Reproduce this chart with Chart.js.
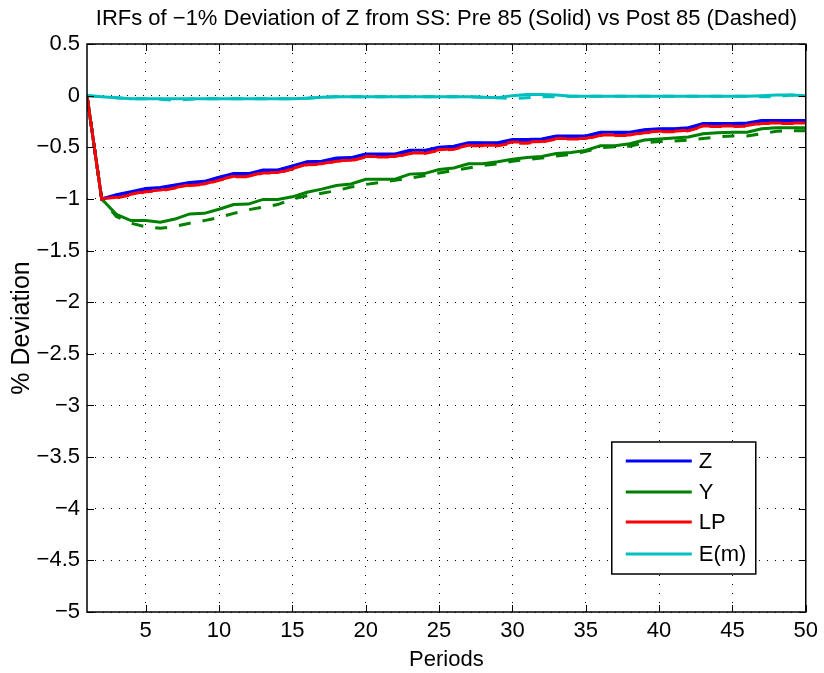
<!DOCTYPE html>
<html>
<head>
<meta charset="utf-8">
<script src="https://cdn.jsdelivr.net/npm/chart.js@4"></script>
<style>
  body { margin: 0; background: #fff; }
  canvas { display: block; }
</style>
</head>
<body>
<canvas id="irfChart" width="824" height="673"></canvas>
<script>
const periods = Array.from({ length: 50 }, (_, i) => i + 1);
const xTicks = [5, 10, 15, 20, 25, 30, 35, 40, 45, 50];

// Pre 85 (solid)
const zPre = [0, -1.00, -0.96, -0.93, -0.90, -0.89, -0.865, -0.84, -0.83, -0.79,
  -0.755, -0.755, -0.72, -0.72, -0.68, -0.64, -0.635, -0.605, -0.60, -0.565,
  -0.565, -0.565, -0.53, -0.53, -0.50, -0.49, -0.455, -0.455, -0.455, -0.425,
  -0.425, -0.42, -0.39, -0.39, -0.39, -0.355, -0.355, -0.355, -0.33, -0.32,
  -0.32, -0.31, -0.27, -0.27, -0.27, -0.265, -0.24, -0.24, -0.24, -0.24];
const yPre = [0, -1.00, -1.15, -1.21, -1.21, -1.225, -1.195, -1.145, -1.14, -1.10,
  -1.055, -1.05, -1.005, -1.005, -0.98, -0.935, -0.905, -0.87, -0.855, -0.81,
  -0.81, -0.81, -0.76, -0.755, -0.715, -0.70, -0.66, -0.66, -0.64, -0.615,
  -0.60, -0.59, -0.56, -0.55, -0.53, -0.485, -0.485, -0.465, -0.43, -0.42,
  -0.41, -0.40, -0.37, -0.36, -0.355, -0.355, -0.32, -0.31, -0.31, -0.31];
const lpPre = [0, -1.00, -0.985, -0.955, -0.925, -0.915, -0.89, -0.865, -0.855, -0.815,
  -0.78, -0.78, -0.745, -0.745, -0.705, -0.665, -0.66, -0.63, -0.625, -0.59,
  -0.59, -0.59, -0.555, -0.555, -0.525, -0.515, -0.48, -0.48, -0.48, -0.45,
  -0.45, -0.445, -0.415, -0.415, -0.415, -0.38, -0.38, -0.38, -0.355, -0.345,
  -0.345, -0.335, -0.295, -0.295, -0.295, -0.29, -0.265, -0.265, -0.265, -0.265];
const emPre = [0, -0.01, -0.02, -0.03, -0.03, -0.03, -0.03, -0.03, -0.03, -0.03,
  -0.03, -0.03, -0.03, -0.03, -0.03, -0.025, -0.015, -0.01, -0.01, -0.01,
  -0.01, -0.01, -0.01, -0.01, -0.01, -0.01, -0.01, -0.015, -0.02, 0.0,
  0.01, 0.01, 0.005, -0.005, -0.005, -0.005, -0.005, -0.005, -0.005, -0.005,
  -0.005, -0.005, -0.005, -0.005, -0.005, -0.005, 0.0, 0.005, 0.005, 0.0];

// Post 85 (dashed)
const zPost = [0, -1.00, -0.965, -0.935, -0.905, -0.895, -0.87, -0.845, -0.835, -0.795,
  -0.76, -0.76, -0.725, -0.725, -0.685, -0.645, -0.64, -0.61, -0.605, -0.57,
  -0.57, -0.57, -0.535, -0.535, -0.505, -0.495, -0.46, -0.46, -0.46, -0.43,
  -0.43, -0.425, -0.395, -0.395, -0.395, -0.36, -0.36, -0.36, -0.335, -0.325,
  -0.325, -0.315, -0.275, -0.275, -0.275, -0.27, -0.245, -0.245, -0.245, -0.245];
const yPost = [0, -1.00, -1.17, -1.235, -1.27, -1.285, -1.265, -1.235, -1.21, -1.18,
  -1.14, -1.105, -1.08, -1.055, -1.00, -0.97, -0.945, -0.92, -0.885, -0.86,
  -0.84, -0.82, -0.80, -0.775, -0.75, -0.725, -0.70, -0.675, -0.66, -0.635,
  -0.62, -0.605, -0.585, -0.57, -0.54, -0.505, -0.495, -0.49, -0.455, -0.445,
  -0.44, -0.43, -0.415, -0.40, -0.39, -0.39, -0.37, -0.345, -0.34, -0.34];
const lpPost = [0, -1.00, -0.99, -0.96, -0.93, -0.92, -0.895, -0.87, -0.86, -0.82,
  -0.785, -0.785, -0.75, -0.75, -0.71, -0.67, -0.665, -0.635, -0.63, -0.595,
  -0.595, -0.595, -0.56, -0.56, -0.53, -0.52, -0.485, -0.485, -0.485, -0.46,
  -0.46, -0.45, -0.42, -0.42, -0.42, -0.385, -0.385, -0.385, -0.36, -0.35,
  -0.35, -0.34, -0.3, -0.3, -0.3, -0.295, -0.27, -0.27, -0.27, -0.27];
const emPost = [0, -0.01, -0.02, -0.03, -0.03, -0.035, -0.045, -0.035, -0.03, -0.03,
  -0.03, -0.03, -0.03, -0.03, -0.03, -0.025, -0.015, -0.01, -0.01, -0.01,
  -0.01, -0.01, -0.01, -0.01, -0.01, -0.01, -0.01, -0.015, -0.02, -0.03,
  -0.02, -0.01, -0.01, -0.005, -0.005, -0.005, -0.005, -0.005, -0.005, -0.005,
  -0.005, -0.005, -0.005, -0.005, -0.005, -0.005, -0.01, -0.01, 0.005, 0.0];

const seriesNames = ['Z', 'Y', 'LP', 'E(m)'];
const seriesColors = ['#0000ff', '#008000', '#ff0000', '#00bfbf'];

const fontFamily = "'Liberation Sans', Arial, Helvetica, sans-serif";

function minusLabel(v) {
    if (v === 0) return '0';
    return v < 0 ? '\u2212' + Math.abs(v) : String(v);
}

function makeSet(label, data, color, dashed) {
    return {
        label: label,
        data: periods.map((p, i) => ({ x: p, y: data[i] })),
        borderColor: color,
        backgroundColor: color,
        borderWidth: 3,
        borderDash: dashed ? [12, 12] : [],
        pointRadius: 0,
        fill: false,
        tension: 0
    };
}

// draw order: solid ones first, dashed on top
const drawOrder = [
    makeSet('Z', zPre, seriesColors[0], false),
    makeSet('Y', yPre, seriesColors[1], false),
    makeSet('LP', lpPre, seriesColors[2], false),
    makeSet('E(m)', emPre, seriesColors[3], false),
    makeSet('Z post', zPost, seriesColors[0], true),
    makeSet('Y post', yPost, seriesColors[1], true),
    makeSet('LP post', lpPost, seriesColors[2], true),
    makeSet('E(m) post', emPost, seriesColors[3], true)
];
drawOrder.forEach((ds, i) => { ds.order = drawOrder.length - i; });

// frame, inward ticks, title and legend box (matlab look)
const matlabFrame = {
    id: 'matlabFrame',
    afterDraw(chart) {
        const ctx = chart.ctx;
        const a = chart.chartArea;
        const xs = chart.scales.x;
        const ys = chart.scales.y;
        const tl = 7;

        ctx.save();
        ctx.strokeStyle = '#000';
        ctx.lineWidth = 1;
        ctx.setLineDash([]);
        ctx.beginPath();
        xTicks.forEach(v => {
            const px = Math.round(xs.getPixelForValue(v)) + 0.5;
            ctx.moveTo(px, a.bottom); ctx.lineTo(px, a.bottom - tl);
            ctx.moveTo(px, a.top); ctx.lineTo(px, a.top + tl);
        });
        ys.ticks.forEach(t => {
            const py = Math.round(ys.getPixelForValue(t.value)) + 0.5;
            ctx.moveTo(a.left, py); ctx.lineTo(a.left + tl, py);
            ctx.moveTo(a.right, py); ctx.lineTo(a.right - tl, py);
        });
        ctx.stroke();
        ctx.lineWidth = 1.5;
        ctx.strokeRect(a.left, a.top, a.right - a.left, a.bottom - a.top);

        // title
        ctx.fillStyle = '#000';
        ctx.font = '22px ' + fontFamily;
        ctx.textAlign = 'center';
        ctx.textBaseline = 'middle';
        ctx.fillText('IRFs of \u22121% Deviation of Z from SS: Pre 85 (Solid) vs Post 85 (Dashed)',
            (a.left + a.right) / 2, 19);

        // legend
        const boxW = 144, boxH = 132;
        const bx = a.right - 50 - boxW;
        const by = a.bottom - 38 - boxH;
        ctx.fillStyle = '#fff';
        ctx.fillRect(bx, by, boxW, boxH);
        ctx.lineWidth = 1.5;
        ctx.strokeRect(bx, by, boxW, boxH);
        const rowY = [19, 50, 80, 112];
        ctx.textAlign = 'left';
        seriesNames.forEach((name, i) => {
            const ry = by + rowY[i];
            ctx.strokeStyle = seriesColors[i];
            ctx.lineWidth = 3;
            ctx.beginPath();
            ctx.moveTo(bx + 14, ry);
            ctx.lineTo(bx + 80, ry);
            ctx.stroke();
            ctx.fillStyle = '#000';
            ctx.fillText(name, bx + 87, ry + 1);
        });
        ctx.restore();
    }
};

new Chart(document.getElementById('irfChart'), {
    type: 'line',
    data: { datasets: drawOrder },
    options: {
        responsive: false,
        animation: false,
        layout: { padding: { top: 44, right: 17, bottom: 0, left: 0 } },
        scales: {
            x: {
                type: 'linear',
                min: 1,
                max: 50,
                afterBuildTicks: scale => {
                    scale.ticks = xTicks.map(v => ({ value: v }));
                },
                afterFit: scale => { scale.height = 61; },
                grid: { color: '#000', lineWidth: 1, drawTicks: false },
                border: { display: false, dash: [1, 8] },
                ticks: {
                    color: '#000',
                    padding: 6,
                    maxRotation: 0,
                    autoSkip: false,
                    font: { family: fontFamily, size: 22 }
                },
                title: {
                    display: true,
                    text: 'Periods',
                    color: '#000',
                    padding: { top: 1, bottom: 0 },
                    font: { family: fontFamily, size: 22 }
                }
            },
            y: {
                min: -5,
                max: 0.5,
                afterFit: scale => { scale.width = 87; },
                grid: { color: '#000', lineWidth: 1, drawTicks: false },
                border: { display: false, dash: [1, 7] },
                ticks: {
                    stepSize: 0.5,
                    color: '#000',
                    padding: 7,
                    callback: v => minusLabel(v),
                    font: { family: fontFamily, size: 22 }
                },
                title: {
                    display: true,
                    text: '% Deviation',
                    color: '#000',
                    padding: { top: 7, bottom: 0 },
                    font: { family: fontFamily, size: 25 }
                }
            }
        },
        plugins: {
            legend: { display: false },
            tooltip: { enabled: false }
        }
    },
    plugins: [matlabFrame]
});
</script>
</body>
</html>
